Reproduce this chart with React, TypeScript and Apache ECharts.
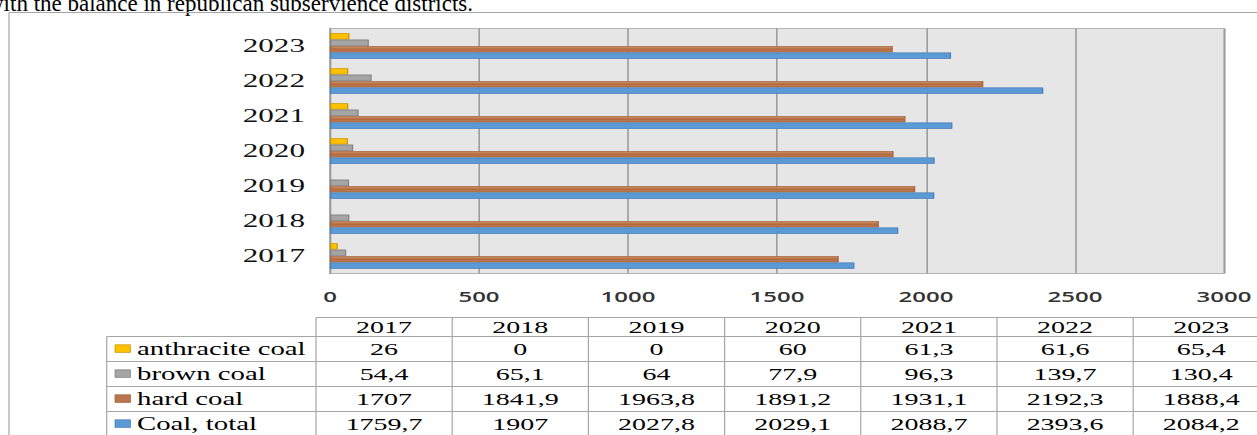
import { useEffect, useRef } from 'react';
import * as echarts from 'echarts';

// ---- data ----
const years = ['2017', '2018', '2019', '2020', '2021', '2022', '2023'];
const anthracite = [26, 0, 0, 60, 61.3, 61.6, 65.4];
const brownCoal = [54.4, 65.1, 64, 77.9, 96.3, 139.7, 130.4];
const hardCoal = [1707, 1841.9, 1963.8, 1891.2, 1931.1, 2192.3, 1888.4];
const coalTotal = [1759.7, 1907, 2027.8, 2029.1, 2088.7, 2393.6, 2084.2];
const seriesNames = ['anthracite coal', 'brown coal', 'hard coal', 'Coal, total'];
const seriesValues = [anthracite, brownCoal, hardCoal, coalTotal];
const xMin = 0;
const xMax = 3000;
const xStep = 500;
const titleText = 'with the balance in republican subservience districts.';

// ---- styling ----
const S = 1.6; // horizontal stretch of the picture
const W = 1257 / S;
const H = 435;
const u = (x: number) => x / S; // picture x -> canvas x

const fills: any[] = [
  '#ffc000',
  '#a5a5a5',
  {
    type: 'linear', x: 0, y: 0, x2: 0, y2: 1,
    colorStops: [
      { offset: 0, color: '#cf9a74' },
      { offset: 0.5, color: '#b5683a' },
      { offset: 1, color: '#c08460' },
    ],
  },
  '#5b9bd5',
];
const borders = ['#c89a05', '#848484', '#a8653d', '#4a80b8'];
const legendFills = ['#ffc000', '#a5a5a5', '#b9764c', '#5b9bd5'];
const LINE = '#a6a6a6';
const SERIF = '"Liberation Serif", "Times New Roman", serif';

function fmt(v: number) {
  return String(v).replace('.', ',');
}

function buildTable() {
  const g: any[] = [];
  const vw = 1 / S; // 1px after stretching
  const colX0 = u(316);
  const colW = u(136.2);
  const labelX0 = u(106.7);
  const headerTop = 317.5;
  const rowLines = [336.5, 361.5, 386.5, 411.5];
  const rowH = 25;
  g.push({ type: 'line', shape: { x1: colX0, y1: headerTop, x2: W, y2: headerTop }, style: { stroke: LINE, lineWidth: 1 } });
  rowLines.forEach((y) => {
    g.push({ type: 'line', shape: { x1: labelX0, y1: y, x2: W, y2: y }, style: { stroke: LINE, lineWidth: 1 } });
  });
  g.push({ type: 'line', shape: { x1: labelX0, y1: rowLines[0], x2: labelX0, y2: H }, style: { stroke: LINE, lineWidth: vw * 1.2 } });
  for (let i = 0; i <= years.length; i++) {
    const x = colX0 + i * colW;
    g.push({ type: 'line', shape: { x1: x, y1: headerTop, x2: x, y2: H }, style: { stroke: LINE, lineWidth: vw * 1.2 } });
  }
  years.forEach((yr, i) => {
    g.push({
      type: 'text', x: colX0 + (i + 0.5) * colW, y: 327,
      style: { text: yr, font: `17.5px ${SERIF}`, fill: '#000', textAlign: 'center', align: 'center', textVerticalAlign: 'middle', verticalAlign: 'middle' },
    });
  });
  seriesNames.forEach((name, r) => {
    const cy = rowLines[0] + rowH * (r + 0.5);
    g.push({
      type: 'rect', shape: { x: u(115), y: cy - 4.2, width: u(15.5), height: 7.6 },
      style: { fill: legendFills[r], stroke: borders[r], lineWidth: 0.6 },
    });
    g.push({
      type: 'text', x: u(137), y: cy,
      style: { text: name, font: `18px ${SERIF}`, fill: '#000', textAlign: 'left', align: 'left', textVerticalAlign: 'middle', verticalAlign: 'middle' },
    });
    seriesValues[r].forEach((v, i) => {
      g.push({
        type: 'text', x: colX0 + (i + 0.5) * colW, y: cy,
        style: { text: fmt(v), font: `17.5px ${SERIF}`, fill: '#000', textAlign: 'center', align: 'center', textVerticalAlign: 'middle', verticalAlign: 'middle' },
      });
    });
  });
  return g;
}

export default function App() {
  const ref = useRef<HTMLDivElement>(null);

  useEffect(() => {
    document.body.style.margin = '0';
    document.body.style.overflow = 'hidden';
    if (!ref.current) return;
    const chart = echarts.init(ref.current, undefined, { renderer: 'svg', width: W, height: H });

    const graphic: any[] = [
      {
        type: 'text', x: u(-13), y: 3, scaleX: 1 / S,
        style: { text: titleText, font: `23px ${SERIF}`, fill: '#000', textAlign: 'left', align: 'left', textVerticalAlign: 'middle', verticalAlign: 'middle' },
      },
      { type: 'line', shape: { x1: u(9), y1: 12.5, x2: W, y2: 12.5 }, style: { stroke: LINE, lineWidth: 1 } },
      { type: 'line', shape: { x1: u(9), y1: 12.5, x2: u(9), y2: H }, style: { stroke: LINE, lineWidth: 1.2 / S } },
      ...buildTable(),
    ];

    chart.setOption({
      animation: false,
      grid: {
        left: u(330), right: W - u(1224), top: 28.5, height: 245,
        show: true, backgroundColor: '#e6e6e6', borderColor: '#b3b3b3', borderWidth: 1,
        containLabel: false, outerBoundsMode: 'none',
      },
      xAxis: {
        type: 'value', min: xMin, max: xMax, interval: xStep,
        axisLine: { show: false },
        axisTick: { show: false },
        splitLine: { show: true, lineStyle: { color: '#9c9c9c', width: 1 } },
        axisLabel: {
          margin: 15, color: '#333', fontFamily: '"Open Sans", "Noto Sans", sans-serif', fontSize: 15, fontWeight: 600,
          formatter: (v: number) => String(v),
        },
      },
      yAxis: {
        type: 'category', data: years,
        axisLine: { show: true, lineStyle: { color: '#9c9c9c', width: 1 } },
        axisTick: { show: false },
        axisLabel: { margin: u(25), color: '#111', fontFamily: SERIF, fontSize: 19.5 },
      },
      series: seriesNames.map((name, k) => ({
        name,
        type: 'bar',
        barWidth: 6.4,
        barGap: '0%',
        data: seriesValues[k].map((v) => (v === 0 ? { value: 0, itemStyle: { borderWidth: 0 } } : v)),
        itemStyle: { color: fills[k], borderColor: borders[k], borderWidth: 0.8 },
      })),
      graphic,
    });
    return () => chart.dispose();
  }, []);

  return (
    <div
      style={{
        position: 'absolute', left: 0, top: 0,
        width: W, height: H,
        transform: `scaleX(${S})`, transformOrigin: '0 0',
      }}
    >
      <div ref={ref} style={{ width: W, height: H }} />
    </div>
  );
}
